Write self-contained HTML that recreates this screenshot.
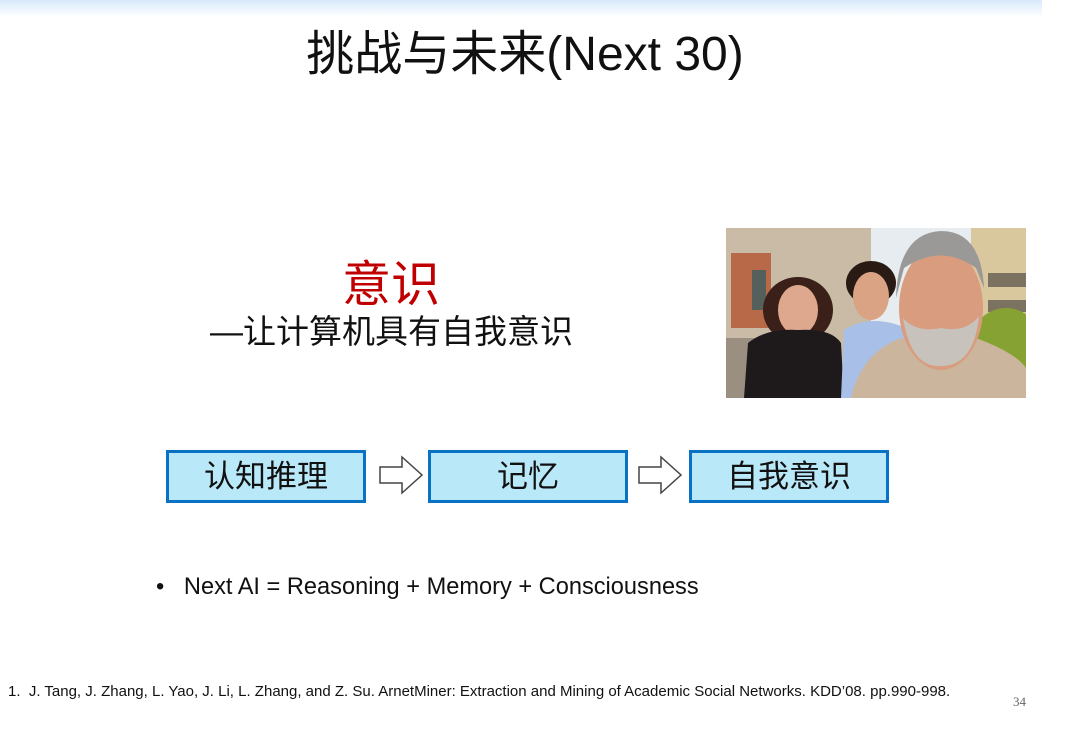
<!DOCTYPE html>
<html><head><meta charset="utf-8"><style>
body{margin:0;width:1080px;height:729px;background:#fff;position:relative;overflow:hidden;font-family:"Liberation Sans","Noto Sans CJK SC",sans-serif}
.band{position:absolute;left:0;top:0;width:1042px;height:16px;background:linear-gradient(#d7e9fb,#fdfeff)}
.t{position:absolute;white-space:nowrap}
.box{position:absolute;top:450px;width:194px;height:47px;background:#b9e8f8;border:3px solid #0a72c4;font-size:31px;text-align:center;line-height:47px;color:#111}
</style></head><body>
<div class="band"></div>
<div class="t" style="left:0;width:1050px;text-align:center;top:14px;font-size:48px;color:#111">挑战与未来(Next 30)</div>
<div class="t" style="left:342px;top:245px;font-size:49px;color:#c00000">意识</div>
<div class="t" style="left:210px;top:305px;font-size:33px;color:#111">—让计算机具有自我意识</div>
<svg style="position:absolute;left:726px;top:228px" width="300" height="170" viewBox="0 0 300 170">
<rect width="300" height="170" fill="#e6ecef"/>
<rect width="145" height="170" fill="#c9bba6"/>
<rect x="5" y="25" width="40" height="75" fill="#b86a48"/>
<rect x="26" y="42" width="14" height="40" fill="#55605c"/>
<rect x="245" y="0" width="55" height="170" fill="#d9c89e"/>
<rect x="262" y="45" width="38" height="14" fill="#7b7262"/>
<rect x="262" y="72" width="38" height="12" fill="#7b7262"/>
<ellipse cx="280" cy="115" rx="35" ry="35" fill="#86a233"/>
<rect x="0" y="110" width="40" height="60" fill="#9a8f80"/>
<ellipse cx="72" cy="82" rx="35" ry="33" fill="#3a2018"/>
<ellipse cx="72" cy="82" rx="20" ry="25" fill="#dda88e"/>
<path d="M18 170 L22 115 Q40 100 72 102 Q105 100 115 115 L118 170Z" fill="#1e1a1c"/>
<ellipse cx="145" cy="55" rx="25" ry="22" fill="#2a1a14"/>
<ellipse cx="145" cy="68" rx="18" ry="24" fill="#d9a384"/>
<path d="M115 170 L118 102 Q145 85 180 100 L185 170Z" fill="#a8c0e8"/>
<path d="M125 170 Q135 125 175 110 L200 115 Q230 118 250 110 Q290 125 300 140 L300 170Z" fill="#cbb59c"/>
<ellipse cx="215" cy="80" rx="42" ry="62" fill="#d99c7e"/>
<path d="M170 70 Q172 5 215 3 Q255 3 258 60 L250 40 Q215 15 178 40Z" fill="#9b9898"/>
<path d="M177 90 Q185 140 215 138 Q248 138 253 88 Q240 105 215 100 Q190 105 177 90Z" fill="#c8c2bc"/>
</svg>
<div class="box" style="left:166px">认知推理</div>
<div class="box" style="left:428px">记忆</div>
<div class="box" style="left:689px">自我意识</div>
<svg style="position:absolute;left:378px;top:455px" width="48" height="40"><path d="M2 12 H24 V2 L44 20 L24 38 V28 H2Z" fill="#fff" stroke="#444" stroke-width="1.5"/></svg>
<svg style="position:absolute;left:637px;top:455px" width="48" height="40"><path d="M2 12 H24 V2 L44 20 L24 38 V28 H2Z" fill="#fff" stroke="#444" stroke-width="1.5"/></svg>
<div class="t" style="left:156px;top:574px;font-size:23.6px;color:#111">•&nbsp;&nbsp;&nbsp;Next AI = Reasoning + Memory + Consciousness</div>
<div class="t" style="left:8px;top:683px;font-size:15px;color:#111">1.&nbsp;&nbsp;J. Tang, J. Zhang, L. Yao, J. Li, L. Zhang, and Z. Su. ArnetMiner: Extraction and Mining of Academic Social Networks. KDD’08. pp.990-998.</div>
<div class="t" style="left:1013px;top:694px;font-size:13px;color:#666;font-family:'Liberation Serif',serif">34</div>
</body></html>
